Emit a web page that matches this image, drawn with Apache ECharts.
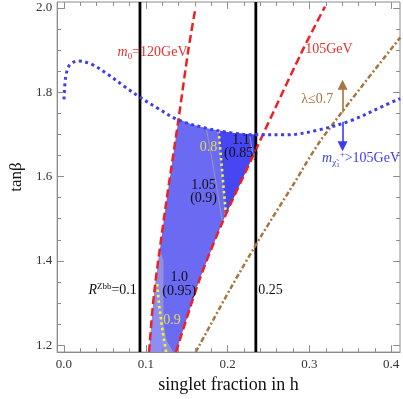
<!DOCTYPE html>
<html>
<head>
<meta charset="UTF-8">
<script src="https://cdn.jsdelivr.net/npm/echarts@6/dist/echarts.min.js"></script>
<style>
  html, body { margin: 0; padding: 0; background: #fff; }
  #main { width: 403px; height: 399px; }
</style>
</head>
<body>
<div id="main"></div>
<script>
// values: [singlet fraction, tan beta]
var mChiCurve = [[0.0, 1.783], [0.002, 1.835], [0.006, 1.862], [0.011, 1.871], [0.018, 1.874], [0.034, 1.866],
  [0.054, 1.842], [0.073, 1.815], [0.093, 1.788], [0.113, 1.764], [0.139, 1.735], [0.173, 1.715],
  [0.204, 1.704], [0.232, 1.699], [0.272, 1.699], [0.312, 1.711], [0.351, 1.733], [0.391, 1.768], [0.411, 1.785]];
var m0Left = [[0.104, 1.1835], [0.110, 1.32], [0.124, 1.525], [0.140, 1.736], [0.152, 1.90], [0.161, 2.003]];
var m0Right = [[0.137, 1.1835], [0.165, 1.352], [0.194, 1.493], [0.2313, 1.650], [0.256, 1.753], [0.292, 1.901], [0.319, 2.003]];
var lambdaLine = [[0.161, 1.1835], [0.204, 1.336], [0.242, 1.462], [0.280, 1.58], [0.315, 1.689], [0.411, 1.93]];
var rZbbLines = [0.0929, 0.2345];

var regionAll = [[0.104, 1.1835], [0.110, 1.32], [0.124, 1.525], [0.140, 1.736], [0.156, 1.724], [0.173, 1.715],
  [0.189, 1.709], [0.204, 1.704], [0.2345, 1.699], [0.2345, 1.663], [0.2313, 1.650], [0.194, 1.493],
  [0.165, 1.352], [0.137, 1.1835]];
var regionDark = [[0.189, 1.709], [0.204, 1.704], [0.2345, 1.699], [0.2345, 1.663], [0.2313, 1.650],
  [0.198, 1.51], [0.193, 1.62]];
var regionLight = [[0.104, 1.1835], [0.110, 1.32], [0.117, 1.425], [0.121, 1.40], [0.121, 1.25],
  [0.125, 1.21], [0.133, 1.1835]];

var yellow08 = [[0.189, 1.709], [0.193, 1.62], [0.198, 1.51]];
var yellow09 = [[0.114, 1.345], [0.116, 1.30], [0.119, 1.255], [0.122, 1.215], [0.125, 1.1835]];
var grayUpper = [[0.174, 1.713], [0.181, 1.64], [0.188, 1.56], [0.194, 1.489]];
var grayLower = [[0.117, 1.425], [0.121, 1.40], [0.121, 1.25], [0.125, 1.21], [0.133, 1.1835]];
var grayTop = [[0.227, 1.700], [0.231, 1.650]];

var upArrow = [[0.3405, 1.752], [0.3405, 1.818]];
var downArrow = [[0.3405, 1.730], [0.3405, 1.672]];

var xMajor = [0, 0.1, 0.2, 0.3, 0.4];
var xMinor = [0.02, 0.04, 0.06, 0.08, 0.12, 0.14, 0.16, 0.18, 0.22, 0.24, 0.26, 0.28, 0.32, 0.34, 0.36, 0.38];
var yMajor = [1.2, 1.4, 1.6, 1.8, 2.0];
var yMinor = [1.25, 1.3, 1.35, 1.45, 1.5, 1.55, 1.65, 1.7, 1.75, 1.85, 1.9, 1.95];

var X_MIN = -0.00833, X_MAX = 0.4107, Y_MIN = 1.1835, Y_MAX = 2.0141;
var SERIF = 'Liberation Serif';
var FRAME = '#8c8c8c';
var GRID = { left: 48, right: 3, top: 2, bottom: 44 };

var chart = echarts.init(document.getElementById('main'));

var xAxis = {
  type: 'value', min: X_MIN, max: X_MAX,
  axisLine: { show: true, onZero: false, lineStyle: { color: FRAME, width: 1 } },
  axisTick: { show: false },
  axisLabel: { show: true, customValues: xMajor, color: '#333', fontFamily: SERIF, fontSize: 13, margin: 6,
    formatter: function (v) { return v.toFixed(1); } },
  splitLine: { show: false },
  name: 'singlet fraction in h', nameLocation: 'middle', nameGap: 20,
  nameTextStyle: { color: '#111', fontFamily: SERIF, fontSize: 18 }
};
var yAxis = {
  type: 'value', min: Y_MIN, max: Y_MAX,
  axisLine: { show: true, onZero: false, lineStyle: { color: FRAME, width: 1 } },
  axisTick: { show: false },
  axisLabel: { show: true, customValues: yMajor, color: '#333', fontFamily: SERIF, fontSize: 13, margin: 5,
    formatter: function (v) { return v.toFixed(1); } },
  splitLine: { show: false },
  name: 'tan\u03b2', nameLocation: 'middle', nameGap: 29, nameRotate: 90,
  nameTextStyle: { color: '#111', fontFamily: SERIF, fontSize: 17 }
};

// frame ticks on all four sides; tick length given in pixels, turned into axis units
var pxX = (X_MAX - X_MIN) / (403 - GRID.left - GRID.right);
var pxY = (Y_MAX - Y_MIN) / (399 - GRID.top - GRID.bottom);
var tickCoords = [];
function addXTicks(vals, len) {
  vals.forEach(function (v) {
    tickCoords.push({ coords: [[v, Y_MIN], [v, Y_MIN + len * pxY]] });
    tickCoords.push({ coords: [[v, Y_MAX], [v, Y_MAX - len * pxY]] });
  });
}
function addYTicks(vals, len) {
  vals.forEach(function (v) {
    tickCoords.push({ coords: [[X_MIN, v], [X_MIN + len * pxX, v]] });
    tickCoords.push({ coords: [[X_MAX, v], [X_MAX - len * pxX, v]] });
  });
}
addXTicks(xMajor, 7); addXTicks(xMinor, 4);
addYTicks(yMajor, 7); addYTicks(yMinor, 4);

var tickSeries = {
  type: 'lines', coordinateSystem: 'cartesian2d', z: 9, silent: true, animation: false,
  symbol: ['none', 'none'],
  lineStyle: { color: FRAME, width: 1, opacity: 1, curveness: 0 },
  data: tickCoords
};

function poly(pts, color, z) {
  return {
    type: 'custom', z: z, silent: true, animation: false, clip: true,
    data: [0],
    renderItem: function (params, api) {
      return {
        type: 'polygon',
        shape: { points: pts.map(function (d) { return api.coord(d); }) },
        style: { fill: color }
      };
    }
  };
}
function line(pts, color, width, dash, smooth, z) {
  return {
    type: 'line', data: pts, symbol: 'none', smooth: smooth, z: z, silent: true, animation: false,
    lineStyle: { color: color, width: width, type: dash, cap: 'butt' }
  };
}
function arrow(pts, color) {
  return {
    type: 'lines', coordinateSystem: 'cartesian2d', z: 20, silent: true, animation: false,
    symbol: ['none', 'triangle'], symbolSize: [7, 10],
    lineStyle: { color: color, width: 1.6, opacity: 1, curveness: 0 },
    data: [{ coords: pts }]
  };
}

var series = [
  poly(regionAll, '#6a6af2', 2),
  poly(regionLight, '#8e8ef2', 3),
  poly(regionDark, '#4646f2', 3),
  line(grayUpper, '#9a9aa8', 1, 'solid', false, 4),
  line(grayLower, '#9a9aa8', 1, 'solid', false, 4),
  line(grayTop, '#9a9aa8', 1, 'solid', false, 4),
  line(yellow08, '#f4f430', 2.6, [2.5, 3], false, 5),
  line(yellow09, '#f4f430', 2.6, [2.5, 3], false, 5),
  line([[rZbbLines[0], Y_MIN], [rZbbLines[0], Y_MAX]], '#000', 2.8, 'solid', false, 6),
  line([[rZbbLines[1], Y_MIN], [rZbbLines[1], Y_MAX]], '#000', 2.8, 'solid', false, 6),
  line(m0Left, '#f02020', 2.5, [8, 4], 0.3, 7),
  line(m0Right, '#f02020', 2.5, [8, 4], 0.3, 7),
  line(lambdaLine, '#a8743f', 2.5, [5, 2.5, 2, 2.5], 0.3, 7),
  line(mChiCurve, '#3c3cf0', 3, [3, 3.5], 0.35, 8),
  arrow(upArrow, '#a8743f'),
  arrow(downArrow, '#3c3cf0'),
  tickSeries
];

chart.setOption({
  animation: false,
  backgroundColor: '#fff',
  grid: { left: GRID.left, right: GRID.right, top: GRID.top, bottom: GRID.bottom, containLabel: false,
    show: true, borderColor: FRAME, borderWidth: 1 },
  xAxis: xAxis,
  yAxis: yAxis,
  series: series
});

// annotations, anchored in data coordinates
var RED = '#e83030', BROWN = '#a8743f', BLUE = '#3c3cf0', YEL = '#e2dc5a';
var rich = {
  i: { fontFamily: SERIF, fontSize: 14, fontStyle: 'italic' },
  n: { fontFamily: SERIF, fontSize: 14 },
  sub: { fontFamily: SERIF, fontSize: 9, padding: [8, 0, 0, 0] },
  subs: { fontFamily: SERIF, fontSize: 7, padding: [12, 0, 0, 0] },
  sup: { fontFamily: SERIF, fontSize: 9, padding: [0, 0, 8, 0] }
};
var notes = [
  { at: [0.1083, 1.894], color: RED, text: '{i|m}{sub|0}{n|=120GeV}' },
  { at: [0.3238, 1.901], color: RED, text: '{n|105GeV}' },
  { at: [0.3095, 1.7835], color: BROWN, text: '{n|\u03bb\u22640.7}' },
  { at: [0.3631, 1.6424], color: BLUE, text: '{i|m}{sub|\u03c7\u0303}{subs|1}{sup|+}{n|>105GeV}' },
  { at: [0.0595, 1.3294], color: '#111', text: '{i|R}{sup|Zbb}{n|=0.1}' },
  { at: [0.2524, 1.3294], color: '#111', text: '{n|0.25}' },
  { at: [0.2163, 1.6855], color: '#111', text: '{n|1.1}' },
  { at: [0.2163, 1.6541], color: '#111', text: '{n|(0.85)}' },
  { at: [0.1706, 1.5796], color: '#111', text: '{n|1.05}' },
  { at: [0.1706, 1.5482], color: '#111', text: '{n|(0.9)}' },
  { at: [0.1408, 1.3600], color: '#111', text: '{n|1.0}' },
  { at: [0.1408, 1.3287], color: '#111', text: '{n|(0.95)}' },
  { at: [0.1765, 1.6698], color: YEL, text: '{n|0.8}' },
  { at: [0.1321, 1.2595], color: YEL, text: '{n|0.9}' }
];
chart.setOption({
  graphic: notes.map(function (a) {
    var p = chart.convertToPixel({ xAxisIndex: 0, yAxisIndex: 0 }, a.at);
    var r = {};
    Object.keys(rich).forEach(function (k) { r[k] = Object.assign({ fill: a.color }, rich[k]); });
    return {
      type: 'text', x: p[0], y: p[1], z: 100, silent: true,
      style: { text: a.text, rich: r, fill: a.color, align: 'center', verticalAlign: 'middle' }
    };
  })
});
</script>
</body>
</html>
